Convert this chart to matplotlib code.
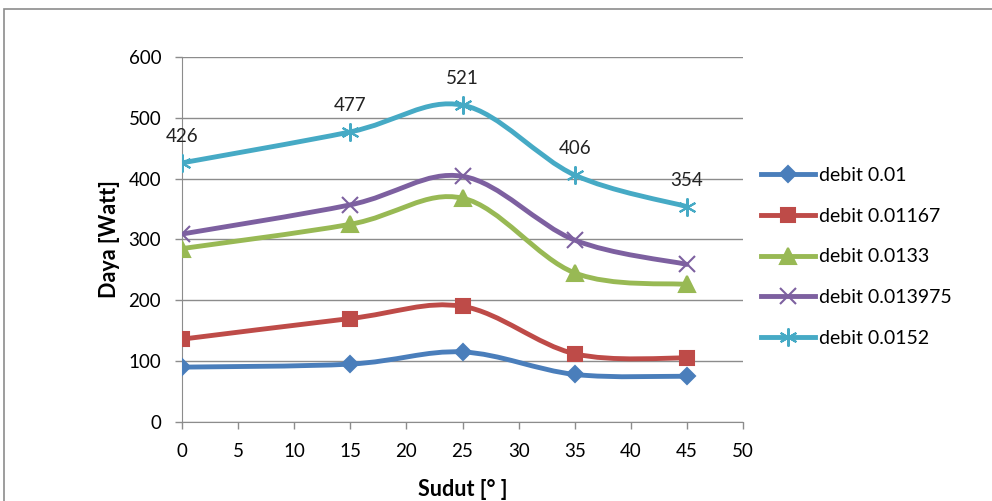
import numpy as np
import matplotlib
matplotlib.use("Agg")
import matplotlib.pyplot as plt
from matplotlib.path import Path
from matplotlib.patches import PathPatch, Rectangle
from matplotlib.lines import Line2D

plt.rcParams['font.family'] = ['Lato', 'DejaVu Sans']

sudut = [0, 15, 25, 35, 45]
debit_labels = ['debit 0.01', 'debit 0.01167', 'debit 0.0133',
                'debit 0.013975', 'debit 0.0152']
daya_001 = [90, 95, 115, 78, 75]
daya_001167 = [136, 170, 190, 112, 105]
daya_00133 = [285, 325, 368, 245, 226]
daya_0013975 = [309, 357, 404, 299, 259]
daya_00152 = [426, 477, 521, 406, 354]

series = [daya_001, daya_001167, daya_00133, daya_0013975, daya_00152]
colors = ['#4A7EBB', '#BE4B48', '#98B954', '#7D60A0', '#46AAC5']
markers = ['D', 's', '^', 'x', (6, 2, 0)]
msizes = [8, 10, 11, 11, 13]


def smooth_path(x, y):
    # excel-like smoothed line: bezier segments through the points
    pts = np.column_stack([x, y]).astype(float)
    n = len(pts)
    verts = [pts[0]]
    codes = [Path.MOVETO]
    for i in range(n - 1):
        p0 = pts[max(i - 1, 0)]
        p1 = pts[i]
        p2 = pts[i + 1]
        p3 = pts[min(i + 2, n - 1)]
        c1 = p1 + (p2 - p0) / 6.0
        c2 = p2 - (p3 - p1) / 6.0
        verts += [c1, c2, p2]
        codes += [Path.CURVE4] * 3
    return Path(verts, codes)


fig = plt.figure(figsize=(9.92, 5.01), dpi=100)
fig.patches.append(Rectangle((4 / 992, -0.1), 1.2, 1 - 9 / 501 + 0.1,
                             transform=fig.transFigure, fill=False,
                             edgecolor='#8c8c8c', lw=1.2))
ax = fig.add_axes([0.1835, 0.158, 0.5655, 0.728])

for vals, c, m, ms in zip(series, colors, markers, msizes):
    ax.add_patch(PathPatch(smooth_path(sudut, vals), fill=False,
                           edgecolor=c, lw=3.5, capstyle='round', zorder=2))
    ax.plot(sudut, vals, linestyle='none', marker=m, color=c, ms=ms,
            mew=1.5, zorder=3)

for xv, yv in zip(sudut, daya_00152):
    ax.annotate(str(yv), (xv, yv), xytext=(0, 13), textcoords='offset points',
                ha='center', va='bottom', fontsize=13.5, color='#222222')

ax.set_xlim(0, 50)
ax.set_ylim(0, 600)
ax.set_xticks(range(0, 51, 5))
ax.set_yticks(range(0, 601, 100))
ax.yaxis.grid(True, color='#8c8c8c', lw=1)
ax.set_axisbelow(True)
for s in ['top', 'right']:
    ax.spines[s].set_visible(False)
for s in ['left', 'bottom']:
    ax.spines[s].set_color('#8c8c8c')
ax.tick_params(colors='#8c8c8c', labelcolor='black', labelsize=13.5,
               length=5, width=1)
ax.tick_params(axis='x', pad=10)
ax.tick_params(axis='y', pad=10)
ax.set_xlabel('Sudut [° ]', fontsize=15.5, fontweight='bold', labelpad=14)
ax.set_ylabel('Daya [Watt]', fontsize=15.5, fontweight='bold', labelpad=6)

handles = [Line2D([], [], color=c, lw=3.5, marker=m, ms=ms, mew=1.5)
           for c, m, ms in zip(colors, markers, msizes)]
ax.legend(handles, debit_labels, loc='center left',
          bbox_to_anchor=(1.0, 0.452), frameon=False, fontsize=14,
          handlelength=2.8, handletextpad=0.2, labelspacing=1.22,
          borderaxespad=0.5)

fig.savefig('out.png', dpi=100)
